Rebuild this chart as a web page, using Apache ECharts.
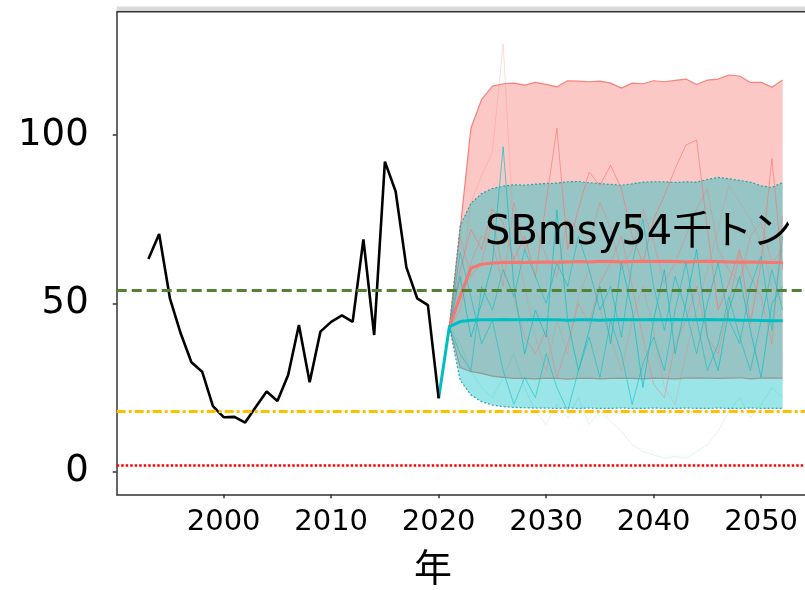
<!DOCTYPE html>
<html><head><meta charset="utf-8">
<script src="https://cdn.jsdelivr.net/npm/echarts@6/dist/echarts.min.js"></script>
<style>html,body{margin:0;padding:0;background:#fff}#c{width:805px;height:590px}</style>
</head><body><div id="c"></div>
<script>
// ---- data ----
const histYears = [1993,1994,1995,1996,1997,1998,1999,2000,2001,2002,2003,2004,2005,2006,2007,2008,2009,2010,2011,2012,2013,2014,2015,2016,2017,2018,2019,2020];
const histValues = [63.2,70.6,51.5,41.1,32.5,29.7,19.5,16.2,16.3,14.6,19.3,23.8,21.0,28.7,43.6,26.6,41.6,44.5,46.4,44.5,69.0,40.6,92.1,83.2,60.7,51.5,49.5,21.8];
const projYears = [2021,2022,2023,2024,2025,2026,2027,2028,2029,2030,2031,2032,2033,2034,2035,2036,2037,2038,2039,2040,2041,2042,2043,2044,2045,2046,2047,2048,2049,2050,2051,2052];
const redUpper = [43,72,102,110.6,114.5,115.2,115.4,114.8,115.6,115,114.3,116.1,116,115.8,116,115.4,113.9,115.4,115.2,116.1,115.8,116.2,116.6,115,116.3,116.6,117.8,117.5,115.6,115.6,114.2,116.3];
const redLower = [43,31,29.7,29.2,28.4,28,27.7,27.7,27.6,27.8,27.7,27.5,27.7,27.8,27.6,27.7,27.8,27.7,27.6,27.8,27.7,27.6,27.8,27.9,27.8,27.7,27.8,27.9,27.6,27.8,27.9,27.8];
const redMedian = [43,52,60.5,61.6,62,62.1,62.2,62.1,62.2,62.3,62.2,62.3,62.4,62.3,62.5,62.4,62.3,62.4,62.5,62.4,62.5,62.4,62.3,62.4,62.5,62.4,62.3,62.2,62.3,62.2,62.1,62.1];
const cyanUpper = [43,73,79.7,82.6,84.1,84.8,85.2,85.1,85.4,85.6,85.7,86.1,86.2,85.8,85.6,85.3,85.1,85.5,86,86.1,86.1,85.9,86.1,86,86.8,87.4,87,86.5,86,84.9,84.4,85.9];
const cyanLower = [43,27.2,22.8,20.8,19.8,19.3,19.1,19,18.9,18.9,18.8,18.9,18.8,18.9,18.8,18.8,18.9,18.8,18.8,18.9,18.8,18.8,18.9,18.8,18.8,18.9,18.8,18.8,18.9,18.8,18.8,18.8];
const cyanMedian = [43.1,44.6,45,45.1,45.1,45.2,45.1,45.1,45.2,45.1,45.1,45.0,45.1,45.1,45.0,45.1,45.2,45.1,45.1,45.2,45.1,45.2,45.1,45.1,45.2,45.1,45.1,45.0,45.0,44.9,44.8,44.8];
const redTrace1 = [43,60,72,66,78,74,63,70,58,80,102,66,78,89,85,91,84,70,62,75,82,90,97,98.5,72,48,56,66,44,62,93,60];
const redTrace2 = [43,55,80,88,95,127,70,55,40,30,45,35,52,60,48,40,30,45,55,42,25,20,35,48,60,72,85,80,75,68,55,50];
const redTrace3 = [43,70,58,62,75,60,52,40,35,42,28,38,50,44,56,62,70,55,40,26,22,38,45,55,40,35,50,65,58,52,38,76];
const redTrace4 = [43,48,62,70,68,55,80,66,72,64,58,75,72,68,80,72,60,66,78,68,56,62,70,78,84,66,60,56,70,74,62,66];
const cyanTrace1 = [43,58,40,50,62,96.5,55,35,48,40,77.7,45,30,42,55,38,62,48,25,45,60,35,50,66,40,30,48,58,42,28,50,55];
const cyanTrace2 = [43,65,52,38,45,30,20,28,22,35,25,18,30,40,28,45,35,20,32,40,30,48,62,45,30,38,52,40,30,45,60,48];
const cyanTrace3 = [43,35,30,55,48,60,52,66,58,50,62,55,70,60,48,55,40,62,75,55,42,58,48,35,50,62,45,38,55,64,42,70];
const cyanTrace4 = [43,38,30,25,22,28,35,25,18,14,20,16,22,14,18,15,12,8,6,5,4,4.5,4,6,8,12,18,22,16,20,25,22];
const refTarget = 54;   // SBmsy
const refLimit = 18;
const refBan = 1.8;
const xTicks = [2000,2010,2020,2030,2040,2050];
const yTicks = [0,50,100];
const labelText = 'SBmsy54千トン';
const xTitle = '年';

// ---- helpers ----
const RED = '#F8766D', CYAN = '#00BFC4';
const pairs = (xs, ys) => xs.map((x, i) => [x, ys[i]]);
function bandSeries(lo, hi, color, opacity, z) {
  return {
    type: 'custom', silent: true, z: z,
    data: projYears.map((x, i) => [x, lo[i], hi[i]]),
    encode: { x: 0, y: [1, 2] },
    renderItem: function (params, api) {
      if (params.dataIndex !== 0) return null;
      const pts = [];
      for (let i = 0; i < projYears.length; i++) pts.push(api.coord([projYears[i], hi[i]]));
      for (let i = projYears.length - 1; i >= 0; i--) pts.push(api.coord([projYears[i], lo[i]]));
      return { type: 'polygon', shape: { points: pts }, style: { fill: color, opacity: opacity } };
    }
  };
}
function line(data, color, width, opacity, z, type) {
  return { type: 'line', data: data, symbol: 'none', silent: true, z: z,
    lineStyle: { color: color, width: width, opacity: opacity, type: type || 'solid' } };
}
const F = 'DejaVu Sans, Noto Sans CJK JP, sans-serif';

const chart = echarts.init(document.getElementById('c'), null, { renderer: 'canvas' });
const series = [
  bandSeries(redLower, redUpper, RED, 0.4, 1),
  line(pairs(projYears, redUpper), RED, 1.2, 0.9, 1.1),
  line(pairs(projYears, redLower), RED, 1.2, 0.9, 1.1),
  bandSeries(cyanLower, cyanUpper, CYAN, 0.4, 1.2),
  line(pairs(projYears, cyanUpper), '#1A9FA3', 1.2, 0.9, 1.3, [2, 2]),
  line(pairs(projYears, cyanLower), '#1A9FA3', 1.2, 0.9, 1.3, [2, 2]),
  line(pairs(projYears, redTrace2), RED, 1, 0.25, 2),
  line(pairs(projYears, cyanTrace4), CYAN, 1, 0.15, 2),
  line(pairs(projYears, redTrace1), RED, 1, 0.65, 2),
  line(pairs(projYears, redTrace3), RED, 1, 0.45, 2),
  line(pairs(projYears, redTrace4), RED, 1, 0.4, 2),
  line(pairs(projYears, cyanTrace1), CYAN, 1, 0.65, 2),
  line(pairs(projYears, cyanTrace2), CYAN, 1, 0.55, 2),
  line(pairs(projYears, cyanTrace3), CYAN, 1, 0.55, 2),
  line(pairs(projYears, redMedian), RED, 3, 1, 3),
  line([[histYears[histYears.length - 1], histValues[histValues.length - 1]]].concat(pairs(projYears, cyanMedian)), CYAN, 3, 1, 3),
  Object.assign(line(pairs(histYears, histValues), '#000', 2.6, 1, 3), {
    markLine: {
      silent: true, symbol: 'none', label: { show: false },
      data: [
        { yAxis: refTarget, lineStyle: { color: '#548235', width: 3, type: [10, 5] } },
        { yAxis: refLimit, lineStyle: { color: '#FFC000', width: 3, type: [9, 3, 3, 3] } },
        { yAxis: refBan, lineStyle: { color: '#FF0000', width: 2.5, type: [2.5, 2] } }
      ]
    }
  })
];

chart.setOption({
  animation: false,
  backgroundColor: '#fff',
  grid: { left: 116.7, top: 11.7, right: 0, height: 482.6, containLabel: false },
  xAxis: {
    type: 'value', min: 1990.05, max: 2054.08,
    axisLine: { show: true, onZero: false, lineStyle: { color: '#333', width: 1.5 } },
    axisTick: { show: true, length: 4, customValues: xTicks, lineStyle: { color: '#333', width: 1.5 } },
    axisLabel: { customValues: xTicks, fontSize: 29, color: '#000', margin: 14, fontFamily: F, formatter: v => String(v) },
    splitLine: { show: false }
  },
  yAxis: {
    type: 'value', min: -6.7, max: 136.6,
    axisLine: { show: true, onZero: false, lineStyle: { color: '#333', width: 1.5 } },
    axisTick: { show: true, length: 4, customValues: yTicks, lineStyle: { color: '#333', width: 1.5 } },
    axisLabel: { customValues: yTicks, fontSize: 37, color: '#000', margin: 28, fontFamily: F, formatter: v => String(v) },
    splitLine: { show: false }
  },
  graphic: [
    { type: 'rect', shape: { x: 116.7, y: 6.5, width: 700, height: 4.5 }, style: { fill: '#d9d9d9' }, z: 50 },
    { type: 'line', shape: { x1: 116.7, y1: 11.7, x2: 805, y2: 11.7 }, style: { stroke: '#333', lineWidth: 1.5 }, z: 50 },
    { type: 'text', x: 485, y: 234, z: 100,
      style: { text: labelText, font: '40px ' + F, fill: '#000', textVerticalAlign: 'middle', verticalAlign: 'middle' } },
    { type: 'text', x: 433, y: 571, z: 100,
      style: { text: xTitle, font: '38px ' + F, fill: '#000', align: 'center', verticalAlign: 'middle', textAlign: 'center', textVerticalAlign: 'middle' } }
  ],
  series: series
});
</script></body></html>
